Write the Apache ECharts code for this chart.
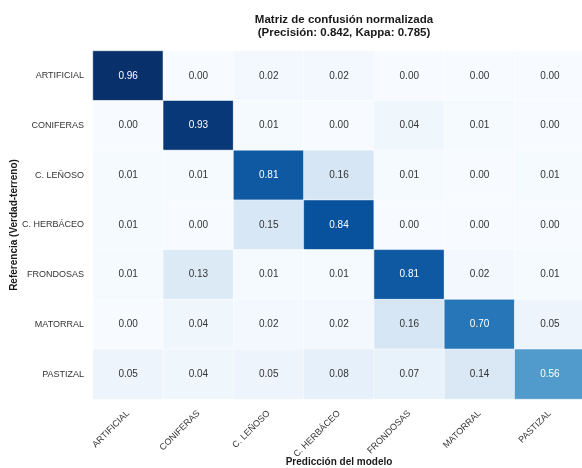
<!DOCTYPE html>
<html>
<head>
<meta charset="utf-8">
<script src="https://cdn.jsdelivr.net/npm/echarts@6/dist/echarts.min.js"></script>
<style>
  html, body { margin: 0; padding: 0; background: #fff; }
  #chart { width: 582px; height: 468px; }
</style>
</head>
<body>
<div id="chart"></div>
<script>
// clases (filas = referencia, columnas = prediccion)
var clases = ['ARTIFICIAL', 'CONIFERAS', 'C. LEÑOSO', 'C. HERBÁCEO', 'FRONDOSAS', 'MATORRAL', 'PASTIZAL'];

// matriz normalizada, una fila por clase de referencia
var filaArtificial = [0.96, 0.00, 0.02, 0.02, 0.00, 0.00, 0.00];
var filaConiferas  = [0.00, 0.93, 0.01, 0.00, 0.04, 0.01, 0.00];
var filaLenoso     = [0.01, 0.01, 0.81, 0.16, 0.01, 0.00, 0.01];
var filaHerbaceo   = [0.01, 0.00, 0.15, 0.84, 0.00, 0.00, 0.00];
var filaFrondosas  = [0.01, 0.13, 0.01, 0.01, 0.81, 0.02, 0.01];
var filaMatorral   = [0.00, 0.04, 0.02, 0.02, 0.16, 0.70, 0.05];
var filaPastizal   = [0.05, 0.04, 0.05, 0.08, 0.07, 0.14, 0.56];

var matriz = [filaArtificial, filaConiferas, filaLenoso, filaHerbaceo, filaFrondosas, filaMatorral, filaPastizal];

// paleta "Blues"
var blues = ['#f7fbff', '#deebf7', '#c6dbef', '#9ecae1', '#6baed6', '#4292c6', '#2171b5', '#08519c', '#08306b'];

// celdas [col, fila, valor]; texto blanco sobre las oscuras
var datos = [];
for (var i = 0; i < matriz.length; i++) {
    for (var j = 0; j < matriz[i].length; j++) {
        var v = matriz[i][j];
        datos.push({
            value: [j, i, v],
            label: { color: v >= 0.5 ? '#ffffff' : '#333333' }
        });
    }
}

var fuente = 'Liberation Sans, Arial, sans-serif';
var chart = echarts.init(document.getElementById('chart'));

chart.setOption({
    animation: false,
    title: {
        text: 'Matriz de confusión normalizada\n(Precisión: 0.842, Kappa: 0.785)',
        left: 339,
        top: 8,
        textAlign: 'center',
        textStyle: {
            fontFamily: fuente,
            fontSize: 11.5,
            fontWeight: 'bold',
            color: '#1a1a1a',
            lineHeight: 13
        }
    },
    grid: {
        left: 93,
        right: -3,
        top: 51,
        bottom: 69,
        outerBoundsMode: 'none'
    },
    xAxis: {
        type: 'category',
        data: clases,
        name: 'Predicción del modelo',
        nameLocation: 'middle',
        nameGap: 58,
        nameMoveOverlap: false,
        nameTextStyle: { fontFamily: fuente, fontSize: 10, fontWeight: 'bold', color: '#1a1a1a' },
        axisLine: { show: false },
        axisTick: { show: false },
        splitLine: { show: false },
        axisLabel: {
            rotate: 45,
            margin: 13,
            fontFamily: fuente,
            fontSize: 9,
            color: '#333'
        }
    },
    yAxis: {
        type: 'category',
        data: clases,
        inverse: true,
        name: 'Referencia (Verdad-terreno)',
        nameLocation: 'middle',
        nameGap: 74,
        nameRotate: 90,
        nameMoveOverlap: false,
        nameTextStyle: { fontFamily: fuente, fontSize: 10, fontWeight: 'bold', color: '#1a1a1a' },
        axisLine: { show: false },
        axisTick: { show: false },
        splitLine: { show: false },
        axisLabel: {
            margin: 9,
            fontFamily: fuente,
            fontSize: 9,
            color: '#333'
        }
    },
    visualMap: {
        show: false,
        min: 0,
        max: 0.96,
        dimension: 2,
        inRange: { color: blues }
    },
    series: [{
        type: 'heatmap',
        data: datos,
        itemStyle: { borderColor: '#ffffff', borderWidth: 0.5 },
        label: {
            show: true,
            fontFamily: fuente,
            fontSize: 10,
            formatter: function (p) { return p.value[2].toFixed(2); }
        },
        emphasis: { disabled: true }
    }]
});
</script>
</body>
</html>
